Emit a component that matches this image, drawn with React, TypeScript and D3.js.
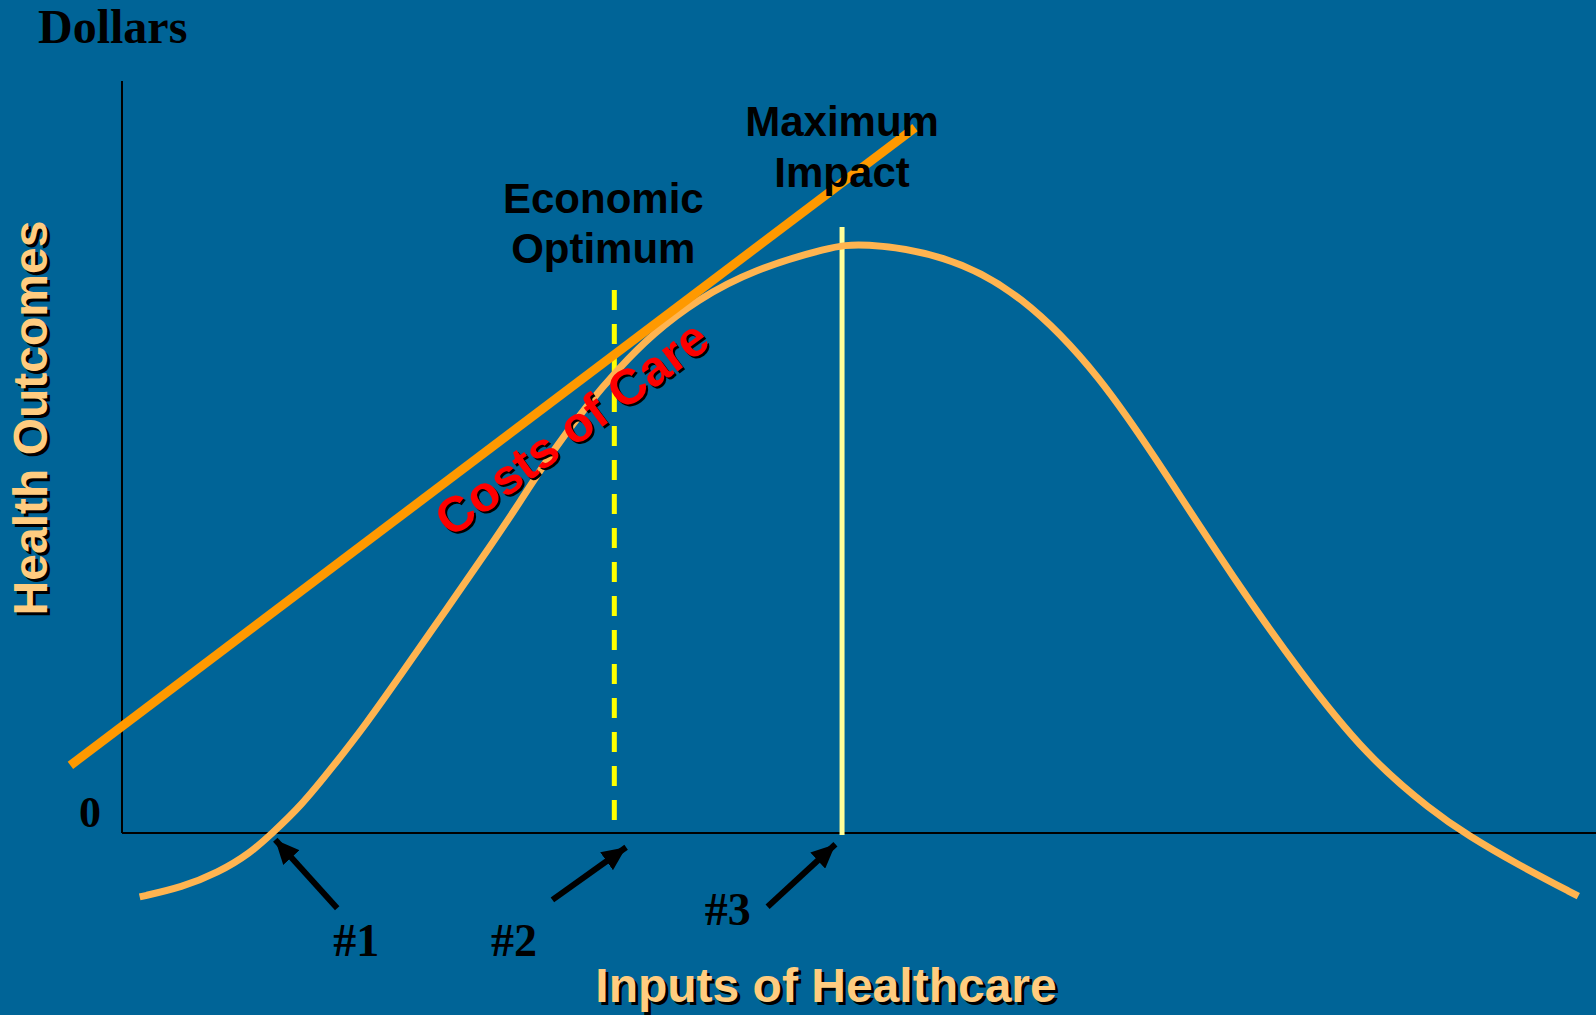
import * as d3 from "d3";

const W = 1596;
const H = 1015;
const BG = "#006497";

// health outcome curve (x = inputs, y = outcomes)
const curveX = [1.2, 4.1, 6.5, 8.7, 10.2, 12.1, 14.3, 16.6, 18.9, 22.1, 24.8, 27, 29.2, 31.6, 33.6, 36, 39, 42.8, 48, 50.1, 55.8, 61, 66.4, 70.9, 75.4, 79.9, 84.5, 88.9, 91.3, 94.6, 98.8];
const curveY = [-8.5, -7.2, -5.3, -2.7, 0, 3.5, 8.8, 14.6, 21.0, 30.0, 37.6, 44.0, 50.8, 57.0, 61.6, 66.4, 70.9, 74.9, 77.9, 78.5, 77, 71.8, 60.8, 47.5, 33.9, 21.4, 10.1, 2.9, -0.3, -4.1, -8.4];

// costs of care line
const costX = [-3.5, 53.8];
const costY = [9, 93.8];

// vertical markers
const optimumX = 33.4;
const optimumTop = 72.2;
const maxImpactX = 48.85;
const maxImpactTop = 80.6;

// arrows: tail -> tip
const arrowLabels = ["#1", "#2", "#3"];
const arrowTailX = [14.6, 29.2, 43.8];
const arrowTailY = [-10, -8.9, -9.8];
const arrowTipX = [10.4, 34.2, 48.4];
const arrowTipY = [-0.9, -1.9, -1.5];
const labelX = [15.9, 26.6, 41.1];
const labelY = [-16.4, -16.4, -12.3];

const SANS = "'Liberation Sans', Arial, sans-serif";
const SERIF = "'Liberation Serif', 'Times New Roman', serif";

function Shadowed(props: {
  x: number;
  y: number;
  text: string;
  size: number;
  fill: string;
  rotate?: number;
  off?: number;
}) {
  const { x, y, text, size, fill, rotate = 0, off = 3 } = props;
  const common = {
    fontFamily: SANS,
    fontWeight: 700,
    fontSize: size,
    textAnchor: "middle" as const,
  };
  return (
    <g>
      <g transform={`translate(${off},${off})`}>
        <text {...common} fill="#000" transform={`translate(${x},${y}) rotate(${rotate})`}>
          {text}
        </text>
      </g>
      <text {...common} fill={fill} transform={`translate(${x},${y}) rotate(${rotate})`}>
        {text}
      </text>
    </g>
  );
}

export default function App() {
  const x = d3.scaleLinear().domain([0, 100]).range([122, W]);
  const y = d3.scaleLinear().domain([0, 100]).range([833, 81]);

  const pts = curveX.map((v, i) => [v, curveY[i]] as [number, number]);
  const line = d3
    .line<[number, number]>()
    .x((d) => x(d[0]))
    .y((d) => y(d[1]))
    .curve(d3.curveBasis);

  return (
    <svg
      width={W}
      height={H}
      style={{ position: "absolute", left: 0, top: 0, display: "block" }}
    >
      <defs>
        <marker
          id="head"
          markerUnits="userSpaceOnUse"
          viewBox="0 0 24 22"
          refX={24}
          refY={11}
          markerWidth={24}
          markerHeight={22}
          orient="auto"
        >
          <path d="M0,0 L24,11 L0,22 Z" fill="#000" />
        </marker>
      </defs>
      <rect width={W} height={H} fill={BG} />

      {/* axes */}
      <line x1={x(0)} x2={x(0)} y1={y(100)} y2={y(0)} stroke="#000" strokeWidth={2} />
      <line x1={x(0)} x2={x(100)} y1={y(0)} y2={y(0)} stroke="#000" strokeWidth={2} />

      <text x={38} y={43} fontFamily={SERIF} fontWeight={700} fontSize={48} fill="#000">
        Dollars
      </text>
      <text x={101} y={827} fontFamily={SERIF} fontWeight={700} fontSize={44} fill="#000" textAnchor="end">
        0
      </text>

      {/* vertical markers */}
      <line
        x1={x(optimumX)}
        x2={x(optimumX)}
        y1={y(optimumTop)}
        y2={y(0)}
        stroke="#FFFF00"
        strokeWidth={5}
        strokeDasharray="20 14"
      />
      <line
        x1={x(maxImpactX)}
        x2={x(maxImpactX)}
        y1={y(maxImpactTop)}
        y2={y(0) + 2}
        stroke="#FFFF99"
        strokeWidth={5}
      />

      {/* outcome curve */}
      <path d={line(pts) ?? ""} fill="none" stroke="#FFB450" strokeWidth={7} />

      {/* cost line */}
      <line
        x1={x(costX[0])}
        y1={y(costY[0])}
        x2={x(costX[1])}
        y2={y(costY[1])}
        stroke="#FF9900"
        strokeWidth={9}
      />

      <Shadowed x={582} y={442} text="Costs of Care" size={50} fill="#FF0000" rotate={-36.5} off={2} />

      {/* marker labels */}
      <g fontFamily={SANS} fontWeight={700} fontSize={42} fill="#000" textAnchor="middle">
        <text x={x(maxImpactX)} y={136}>Maximum</text>
        <text x={x(maxImpactX)} y={187}>Impact</text>
        <text x={x(optimumX) - 11} y={213}>Economic</text>
        <text x={x(optimumX) - 11} y={263}>Optimum</text>
      </g>

      {/* arrows */}
      {arrowLabels.map((lab, i) => (
        <g key={lab}>
          <line
            x1={x(arrowTailX[i])}
            y1={y(arrowTailY[i])}
            x2={x(arrowTipX[i])}
            y2={y(arrowTipY[i])}
            stroke="#000"
            strokeWidth={6}
            markerEnd="url(#head)"
          />
          <text
            x={x(labelX[i])}
            y={y(labelY[i])}
            fontFamily={SERIF}
            fontWeight={700}
            fontSize={46}
            textAnchor="middle"
            fill="#000"
          >
            {lab}
          </text>
        </g>
      ))}

      {/* axis titles */}
      <Shadowed x={47} y={418} text="Health Outcomes" size={48} fill="#FFCC80" rotate={-90} />
      <Shadowed x={826} y={1002} text="Inputs of Healthcare" size={48} fill="#FFCC80" />
    </svg>
  );
}
